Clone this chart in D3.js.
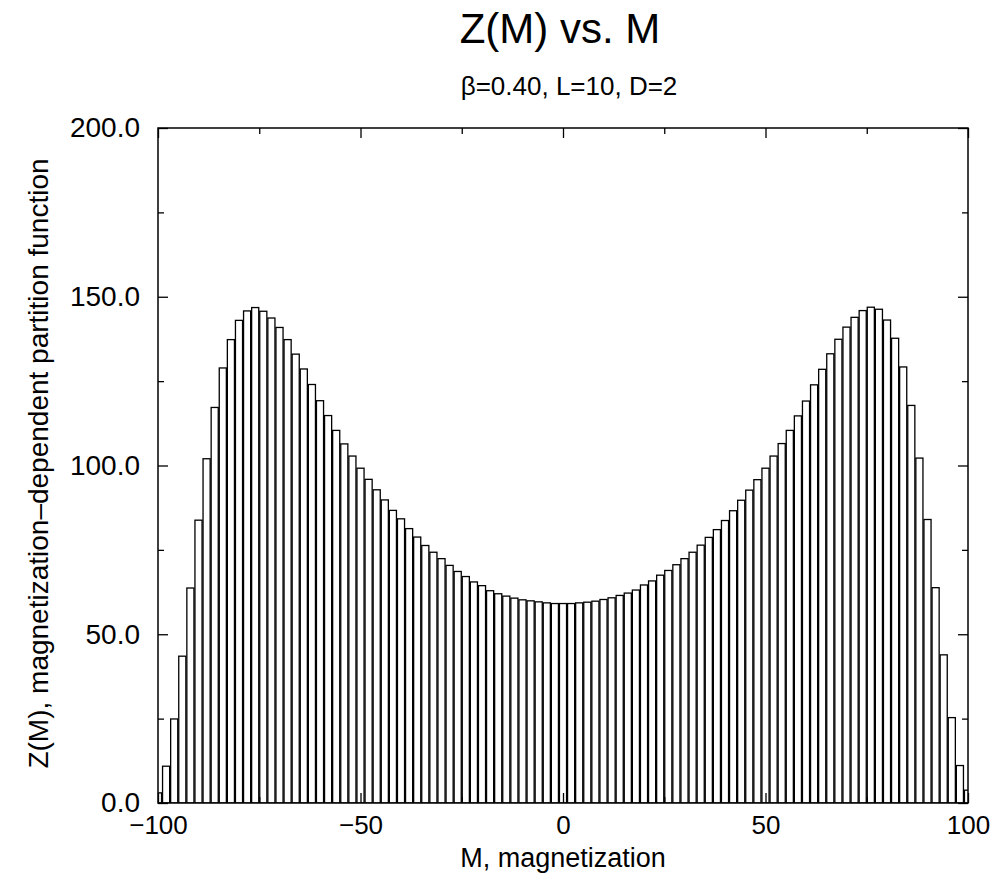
<!DOCTYPE html>
<html lang="en">
<head>
    <meta charset="utf-8">
    <title>Z(M) vs. M</title>
    <script type="text/javascript" src="https://d3js.org/d3.v7.min.js"></script>
    <style type="text/css">
        body { margin: 0; background: white; }
        svg text { font-family: "Liberation Sans", Arial, Helvetica, sans-serif; fill: black; }
    </style>
</head>
<body>
<div id="chart"></div>

<script type="text/javascript">

    // magnetization M (bar centres)
    var mValues = [-100, -98, -96, -94, -92, -90, -88, -86, -84, -82,
        -80, -78, -76, -74, -72, -70, -68, -66, -64, -62,
        -60, -58, -56, -54, -52, -50, -48, -46, -44, -42,
        -40, -38, -36, -34, -32, -30, -28, -26, -24, -22,
        -20, -18, -16, -14, -12, -10, -8, -6, -4, -2,
        0,
        2, 4, 6, 8, 10, 12, 14, 16, 18, 20,
        22, 24, 26, 28, 30, 32, 34, 36, 38, 40,
        42, 44, 46, 48, 50, 52, 54, 56, 58, 60,
        62, 64, 66, 68, 70, 72, 74, 76, 78, 80,
        82, 84, 86, 88, 90, 92, 94, 96, 98, 100];

    // Z(M)
    var zValues = [3.0, 10.9, 24.9, 43.5, 63.7, 83.8, 102.0, 117.2, 128.9, 137.3,
        143.0, 145.8, 146.8, 145.7, 143.7, 140.9, 137.3, 133.0, 128.6, 124.0,
        119.2, 114.8, 110.4, 106.4, 102.8, 99.2, 95.9, 92.8, 89.8, 86.7,
        84.2, 81.3, 78.8, 76.3, 74.3, 72.4, 70.4, 68.6, 67.1, 65.5,
        64.4, 62.9, 62.0, 61.3, 60.7, 60.2, 59.9, 59.6, 59.3, 59.1,
        59.1,
        59.1, 59.3, 59.5, 59.8, 60.3, 60.8, 61.5, 62.2, 63.1, 64.6,
        65.8, 67.5, 68.9, 70.6, 72.4, 74.3, 76.4, 78.7, 81.0, 83.7,
        86.6, 89.7, 92.7, 95.8, 99.2, 102.8, 106.5, 110.4, 114.7, 119.1,
        123.9, 128.5, 133.1, 137.4, 141.0, 143.9, 145.9, 146.9, 146.3, 143.1,
        137.7, 129.2, 117.8, 102.2, 84.0, 63.8, 43.9, 25.3, 11.1, 3.8];

    var xTicks = [-100, -50, 0, 50, 100];
    var xMinorTicks = [-75, -25, 25, 75];
    var yTicks = [0, 50, 100, 150, 200];
    var yMinorTicks = [25, 75, 125, 175];

    var title = "Z(M) vs. M";
    var subtitle = "\u03B2=0.40, L=10, D=2";
    var xTitle = "M, magnetization";
    var yTitle = "Z(M), magnetization\u2013dependent partition function";

    var width = 1000, height = 882;
    var margin = {top: 128, right: 32, bottom: 79, left: 158};
    var w = width - margin.left - margin.right;
    var h = height - margin.top - margin.bottom;

    var svg = d3.select("#chart")
        .append("svg")
        .attr("width", width)
        .attr("height", height);

    var x = d3.scaleLinear().domain([-100, 100]).range([0, w]);
    var y = d3.scaleLinear().domain([0, 200]).range([h, 0]);

    var g = svg.append("g")
        .attr("transform", "translate(" + margin.left + "," + margin.top + ")");

    g.append("clipPath")
        .attr("id", "plotClip")
        .append("rect")
        .attr("width", w)
        .attr("height", h);

    var data = mValues.map(function (m, i) { return {m: m, z: zValues[i]}; });

    //bars, 2 units wide, centred on M
    g.append("g")
        .attr("clip-path", "url(#plotClip)")
        .selectAll("rect")
        .data(data)
        .enter()
        .append("rect")
        .attr("x", function (d) { return x(d.m - 1) + 0.5; })
        .attr("width", function (d) { return x(d.m + 1) - x(d.m - 1) - 1; })
        .attr("y", function (d) { return y(d.z); })
        .attr("height", function (d) { return y(0) - y(d.z); })
        .attr("fill", "white")
        .attr("stroke", "black")
        .attr("stroke-width", 1.3);

    var minus = function (v) { return v < 0 ? "\u2212" + Math.abs(v) : String(v); };

    function styleAxis(sel, size) {
        sel.select(".domain").remove();
        sel.selectAll("line").attr("stroke", "black").attr("stroke-width", 1.3);
        sel.selectAll("text").style("font-size", (size || 28) + "px").attr("fill", "black");
    }

    // labelled axes, ticks pointing inwards
    g.append("g")
        .attr("transform", "translate(0," + h + ")")
        .call(d3.axisBottom(x).tickValues(xTicks).tickSize(-10).tickPadding(13).tickFormat(minus))
        .call(styleAxis, 26);

    g.append("g")
        .call(d3.axisLeft(y).tickValues(yTicks).tickSize(-10).tickPadding(18).tickFormat(d3.format(".1f")))
        .call(styleAxis, 28);

    g.append("g")
        .call(d3.axisTop(x).tickValues(xTicks).tickSize(-10).tickFormat(""))
        .call(styleAxis);

    g.append("g")
        .attr("transform", "translate(" + w + ",0)")
        .call(d3.axisRight(y).tickValues(yTicks).tickSize(-10).tickFormat(""))
        .call(styleAxis);

    // minor ticks
    g.append("g")
        .attr("transform", "translate(0," + h + ")")
        .call(d3.axisBottom(x).tickValues(xMinorTicks).tickSize(-6).tickFormat(""))
        .call(styleAxis);
    g.append("g")
        .call(d3.axisTop(x).tickValues(xMinorTicks).tickSize(-6).tickFormat(""))
        .call(styleAxis);
    g.append("g")
        .call(d3.axisLeft(y).tickValues(yMinorTicks).tickSize(-6).tickFormat(""))
        .call(styleAxis);
    g.append("g")
        .attr("transform", "translate(" + w + ",0)")
        .call(d3.axisRight(y).tickValues(yMinorTicks).tickSize(-6).tickFormat(""))
        .call(styleAxis);

    // frame
    g.append("rect")
        .attr("width", w)
        .attr("height", h)
        .attr("fill", "none")
        .attr("stroke", "black")
        .attr("stroke-width", 1.5);

    svg.append("text")
        .attr("x", 560)
        .attr("y", 43)
        .attr("text-anchor", "middle")
        .style("font-size", "42px")
        .text(title);

    svg.append("text")
        .attr("x", 569)
        .attr("y", 95)
        .attr("text-anchor", "middle")
        .style("font-size", "26px")
        .text(subtitle);

    svg.append("text")
        .attr("x", margin.left + w / 2)
        .attr("y", 867)
        .attr("text-anchor", "middle")
        .style("font-size", "27px")
        .text(xTitle);

    svg.append("text")
        .attr("transform", "translate(48," + (margin.top + h / 2 - 2) + ") rotate(-90)")
        .attr("text-anchor", "middle")
        .style("font-size", "28px")
        .text(yTitle);

</script>
</body>
</html>
